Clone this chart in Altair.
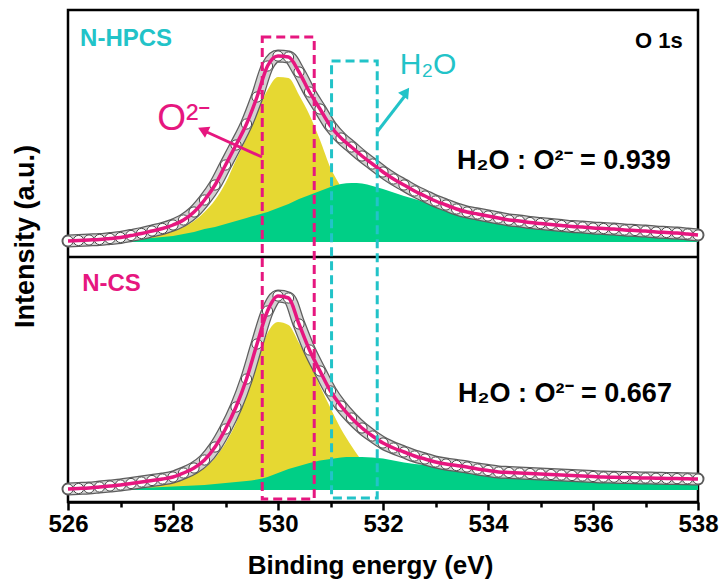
import altair as alt
import pandas as pd

# Binding energy grid (eV)
energy = [526.0, 526.2, 526.4, 526.6, 526.8, 527.0, 527.2, 527.4, 527.6, 527.8,
          528.0, 528.2, 528.4, 528.6, 528.8, 529.0, 529.2, 529.4, 529.6, 529.8,
          530.0, 530.2, 530.4, 530.6, 530.8, 531.0, 531.2, 531.4, 531.6, 531.8,
          532.0, 532.2, 532.4, 532.6, 532.8, 533.0, 533.2, 533.4, 533.6, 533.8,
          534.0, 534.2, 534.4, 534.6, 534.8, 535.0, 535.2, 535.4, 535.6, 535.8,
          536.0, 536.2, 536.4, 536.6, 536.8, 537.0, 537.2, 537.4, 537.6, 537.8,
          538.0]

# N-HPCS: measured O 1s envelope and fitted components (a.u.)
nhpcs_fit = [1, 1.5, 2, 2.5, 3.5, 4.5, 6.5, 8.5, 11, 13.5,
             17, 22, 30, 42, 57, 77, 97, 118, 145, 176,
             186, 185, 170, 150, 133, 116, 104, 95, 86, 78,
             70, 63, 57, 51, 46, 41, 37, 33, 30, 28,
             26, 24, 22, 21, 19.5, 18.5, 17.5, 16.5, 15.5, 15,
             14, 13.5, 13, 12, 11.5, 11, 10, 9.5, 9, 8,
             7]
nhpcs_o2 = [0.5, 0.8, 1, 1.5, 2, 2.5, 3.5, 5, 6.5, 8.5,
            11, 15, 21, 30, 42, 59, 82, 104, 130, 152,
            165, 164, 147, 127, 102, 74, 55, 35, 22, 14,
            9, 6, 4, 3, 2, 1.5, 1.2, 1, 1, 1,
            1, 1, 1, 1, 1, 1, 1, 1, 1, 1,
            1, 1, 1, 1, 1, 1, 1, 1, 1, 1,
            1]
nhpcs_h2o = [1, 1.2, 1.5, 2, 2.3, 2.7, 3, 3.5, 4, 5,
             6, 8, 10, 13, 15, 18, 21, 24, 27, 30,
             34, 38, 43, 47, 51, 55, 58, 59, 58.5, 56,
             53, 49.5, 46, 43, 40, 36, 33, 31, 29, 27,
             25, 23, 22, 20.5, 19, 18, 17, 16, 15.5, 14.5,
             13.5, 13, 12, 11.5, 11, 10, 9.5, 9, 8.5, 7.5,
             7]

# N-CS: measured O 1s envelope and fitted components (a.u.)
ncs_fit = [1, 1.5, 2, 3, 4, 5, 6.5, 8, 9.5, 11,
           13, 17, 22, 30, 43, 61, 83, 111, 146, 179,
           194, 192, 166, 140, 119, 99, 84, 72, 62, 54,
           47, 42, 38, 34, 31, 28, 26, 24.5, 23, 21,
           19.5, 18, 17.5, 17, 16.5, 16, 15.5, 15, 14.5, 14,
           13.5, 13, 12.8, 12.5, 12.2, 12, 11.8, 11.6, 11.4, 11.2,
           11]
ncs_o2 = [0.5, 1, 1.5, 2, 2.5, 3, 4, 5, 6.5, 8,
          10, 13, 16, 22, 32, 47, 67, 96, 128, 157,
          168, 165, 147, 128, 104, 82, 61, 44, 29, 18,
          11, 7, 4, 2.5, 1.5, 1, 1, 1, 1, 1,
          1, 1, 1, 1, 1, 1, 1, 1, 1, 1,
          1, 1, 1, 1, 1, 1, 1, 1, 1, 1,
          1]
ncs_h2o = [1, 1, 1.2, 1.4, 1.6, 1.8, 2, 2.3, 2.6, 3,
           3.5, 4, 4.5, 5, 6, 7, 8, 9, 10.5, 13,
           17, 21, 24, 27, 29.5, 31, 32.5, 33, 33, 32.5,
           31.5, 29.5, 27.5, 26, 25, 23.5, 22.5, 21.5, 20, 19,
           17.5, 16.5, 16, 15.5, 15, 14.5, 14, 13.8, 13.5, 13,
           12.5, 12.2, 12, 11.8, 11.5, 11.2, 11, 10.8, 10.5, 10.3,
           10]

samples = ["N-HPCS", "N-CS"]
ratio_labels = ["H\u2082O : O\u00b2\u207b = 0.939", "H\u2082O : O\u00b2\u207b = 0.667"]

# Vertical stacking of the two spectra on one shared intensity axis
Y_MAX = 492
BASELINE = {"N-HPCS": 260, "N-CS": 12}
DIVIDER = 245

YELLOW = "#E6D832"
GREEN = "#00CF86"
MAGENTA = "#E6177F"
CYAN = "#22C3C8"
LABEL_FONT = "Liberation Sans Narrow, Arial Narrow, Liberation Sans, Arial, sans-serif"
TEXT_FONT = "Liberation Sans, Arial, sans-serif"

rows = []
for name, fit, o2, h2o in [("N-HPCS", nhpcs_fit, nhpcs_o2, nhpcs_h2o),
                           ("N-CS", ncs_fit, ncs_o2, ncs_h2o)]:
    b = BASELINE[name]
    for e, f, a, w in zip(energy, fit, o2, h2o):
        rows.append({"energy": e, "sample": name, "base": b,
                     "fit_y": b + f, "o2_y": b + a, "h2o_y": b + w})
df = pd.DataFrame(rows)

x_axis = alt.Axis(
    values=list(range(526, 539)),
    labelExpr="datum.value % 2 == 0 ? datum.label : ''",
    tickSize={"condition": {"test": "datum.value % 2 != 0", "value": 5}, "value": 8},
    tickWidth=2.5, tickColor="black",
    domainColor="black", domainWidth=2.5,
    labelFont=LABEL_FONT, labelFontSize=24, labelFontWeight="bold",
    labelColor="black", labelPadding=2, labelFlush=False, labelOverlap=False,
    format="d", grid=False,
    title="Binding energy (eV)", titleFont=LABEL_FONT, titleFontSize=26,
    titleFontWeight="bold", titleColor="black",
    titleX=302, titleY=63, titleBaseline="middle", titleAlign="center",
)
y_axis = alt.Axis(
    labels=False, ticks=False, domain=False, grid=False,
    title="Intensity (a.u.)", titleFont=TEXT_FONT, titleFontSize=27,
    titleFontWeight="bold", titleColor="black",
    titleX=-43, titleY=226, titleBaseline="middle", titleAlign="center",
)
x_scale = alt.Scale(domain=[526, 538], nice=False, zero=False)
y_scale = alt.Scale(domain=[0, Y_MAX], nice=False, zero=False)


def X(field="energy"):
    return alt.X(f"{field}:Q", scale=x_scale, axis=x_axis, title="Binding energy (eV)")


def Y(field):
    return alt.Y(f"{field}:Q", scale=y_scale, axis=y_axis, title="Intensity (a.u.)")


base = alt.Chart(df)

o2_area = base.mark_area(color=YELLOW, interpolate="monotone").encode(
    x=X(), y=Y("o2_y"), y2="base:Q", detail="sample:N")
h2o_area = base.mark_area(color=GREEN, interpolate="monotone").encode(
    x=X(), y=Y("h2o_y"), y2="base:Q", detail="sample:N")

band_outer = base.mark_line(color="#5e5e5e", strokeWidth=13, interpolate="monotone",
                            strokeCap="round").encode(x=X(), y=Y("fit_y"), detail="sample:N")
band_inner = base.mark_line(color="#d2d2d2", strokeWidth=10.5, interpolate="monotone",
                            strokeCap="round").encode(x=X(), y=Y("fit_y"), detail="sample:N")
circles = base.mark_point(shape="circle", filled=True, fill="white", stroke="#4a4a4a",
                          strokeWidth=1, size=105, opacity=1).encode(
    x=X(), y=Y("fit_y"), detail="sample:N")
fit_line = base.mark_line(color=MAGENTA, strokeWidth=3.5, interpolate="monotone").encode(
    x=X(), y=Y("fit_y"), detail="sample:N")

divider = alt.Chart(pd.DataFrame({"y": [DIVIDER]})).mark_rule(
    color="black", strokeWidth=2.5).encode(y=Y("y"))

# Dashed windows marking the O2- and H2O binding-energy regions
boxes = pd.DataFrame({
    "x1": [529.70, 531.02], "x2": [530.69, 531.89],
    "y1": [3, 4], "y2": [465, 441],
    "c": [MAGENTA, CYAN],
})
box_layer = alt.Chart(boxes).mark_rect(filled=False, strokeWidth=3, strokeDash=[9, 5]).encode(
    x=X("x1"), x2="x2:Q", y=Y("y1"), y2="y2:Q", color=alt.Color("c:N", scale=None))

# Arrows pointing from the windows to their labels
arrows = pd.DataFrame({
    "x1": [529.695, 531.886], "y1": [345, 370],
    "x2": [528.60, 532.43], "y2": [371, 407],
    "c": [MAGENTA, CYAN],
})
arrow_lines = alt.Chart(arrows).mark_rule(strokeWidth=3).encode(
    x=X("x1"), y=Y("y1"), x2="x2:Q", y2="y2:Q", color=alt.Color("c:N", scale=None))
head_m = alt.Chart(pd.DataFrame({"x": [528.57], "y": [372]})).mark_point(
    shape="triangle-up", filled=True, color=MAGENTA, size=150, angle=296, opacity=1).encode(
    x=X("x"), y=Y("y"))
head_c = alt.Chart(pd.DataFrame({"x": [532.44], "y": [410]})).mark_point(
    shape="triangle-up", filled=True, color=CYAN, size=150, angle=35, opacity=1).encode(
    x=X("x"), y=Y("y"))

texts = pd.DataFrame({
    "x": [526.23, 526.27, 537.71, 527.70, 532.32, 533.41, 533.43],
    "y": [463, 218, 461, 383, 437, 341, 108],
    "t": ["N-HPCS", "N-CS", "O 1s", "O\u00b2\u207b", "H\u2082O", ratio_labels[0], ratio_labels[1]],
    "c": [CYAN, MAGENTA, "black", MAGENTA, CYAN, "black", "black"],
    "s": [24, 24, 22, 37, 30, 27, 27],
    "a": ["left", "left", "right", "left", "left", "left", "left"],
    "w": ["bold", "bold", "bold", "normal", "normal", "bold", "bold"],
})


def text_layer(sub):
    row = sub.iloc[0]
    return alt.Chart(sub).mark_text(
        align=row["a"], baseline="middle", font=TEXT_FONT, fontSize=int(row["s"]),
        fontWeight=row["w"], color=row["c"]).encode(x=X("x"), y=Y("y"), text="t:N")


text_layers = [text_layer(texts.iloc[[i]]) for i in range(len(texts))]

chart = alt.layer(
    o2_area, h2o_area, band_outer, band_inner, circles, fit_line,
    divider, box_layer, arrow_lines, head_m, head_c, *text_layers
).properties(
    width=630, height=492,
    padding={"left": 68, "top": 10, "right": 21, "bottom": 85},
    autosize=alt.AutoSizeParams(type="none"),
).configure_view(stroke="black", strokeWidth=2.5)

chart.save("out.html", embed_options={"renderer": "svg", "actions": False})
